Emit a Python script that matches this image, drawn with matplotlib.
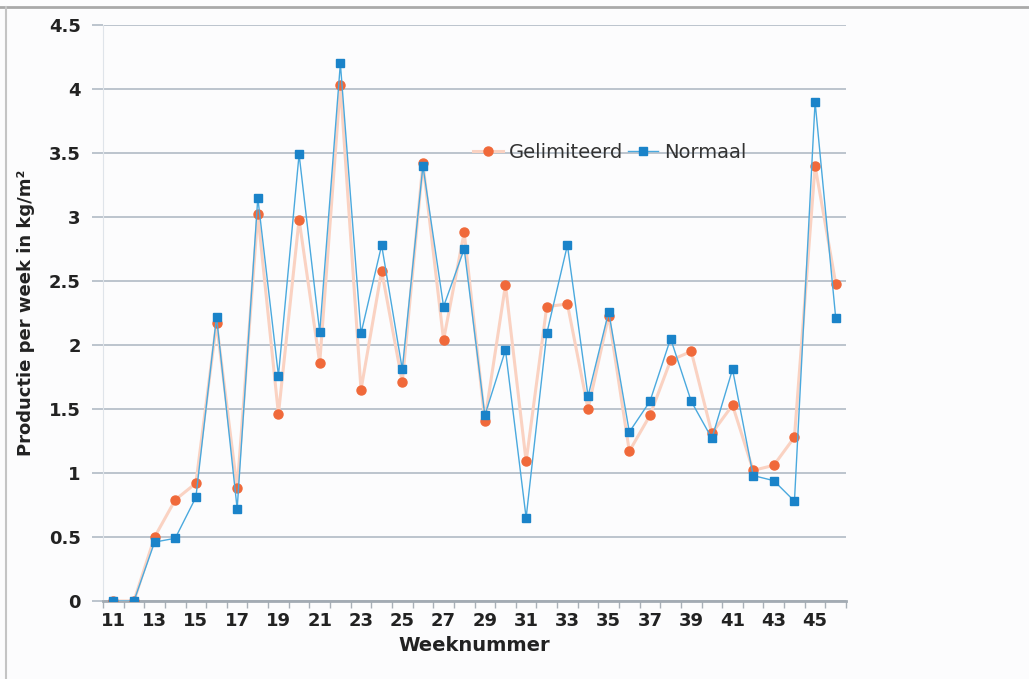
import matplotlib.pyplot as plt
from matplotlib.lines import Line2D

weeks = list(range(11, 47))
gelimiteerd = [0, 0, 0.50, 0.79, 0.92, 2.17, 0.88, 3.02, 1.46, 2.98,
               1.86, 4.03, 1.65, 2.58, 1.71, 3.42, 2.04, 2.88, 1.41, 2.47,
               1.09, 2.30, 2.32, 1.50, 2.23, 1.17, 1.45, 1.88, 1.95, 1.31,
               1.53, 1.02, 1.06, 1.28, 3.40, 2.48]
normaal = [0, 0, 0.46, 0.49, 0.81, 2.22, 0.72, 3.15, 1.76, 3.49,
           2.10, 4.20, 2.09, 2.78, 1.81, 3.40, 2.30, 2.75, 1.45, 1.96,
           0.65, 2.09, 2.78, 1.60, 2.26, 1.32, 1.56, 2.05, 1.56, 1.27,
           1.81, 0.98, 0.94, 0.78, 3.90, 2.21]
yticks = [0, 0.5, 1, 1.5, 2, 2.5, 3, 3.5, 4, 4.5]
ytick_labels = ['0', '0.5', '1', '1.5', '2', '2.5', '3', '3.5', '4', '4.5']

fig = plt.figure(figsize=(10.29, 6.79), dpi=100, facecolor='#fcfcfd')
ax = fig.add_axes([0.1001, 0.1149, 0.7221, 0.8483])
ax.set_facecolor('#fcfcfd')

# border: only top and left edges are visible in the original
fig.lines.append(Line2D([0, 1], [1 - 7 / 679, 1 - 7 / 679], transform=fig.transFigure,
                        color='#a9a9a9', lw=2))
fig.lines.append(Line2D([6 / 1029, 6 / 1029], [0, 1 - 7 / 679], transform=fig.transFigure,
                        color='#c4c4c4', lw=1.5))

ax.plot(weeks, gelimiteerd, color='#fad2c2', lw=2.2, marker='o', ms=6.5,
        mfc='#f0693a', mec='#f0693a', label='Gelimiteerd', zorder=3)
ax.plot(weeks, normaal, color='#4aa9de', lw=1, marker='s', ms=5.5,
        mfc='#1a83c9', mec='#1a83c9', label='Normaal', zorder=4)

ax.set_xlim(10.5, 46.5)
ax.set_ylim(0, 4.5)
ax.set_yticks(yticks)
ax.set_yticklabels(ytick_labels)
ax.set_xticks(range(11, 46, 2))
ax.set_xticks([w - 0.5 for w in weeks] + [46.5], minor=True)
ax.tick_params(axis='x', which='major', length=0, pad=8, labelsize=13)
ax.tick_params(axis='x', which='minor', length=5, color='#a9b0b8', width=1)
ax.tick_params(axis='y', length=8, width=1.3, color='#b7c0c9', pad=8, labelsize=13)
for lab in ax.get_xticklabels() + ax.get_yticklabels():
    lab.set_fontweight('bold')
    lab.set_color('#222222')

ax.grid(axis='y', color='#b7c0c9', lw=1.3)
ax.set_axisbelow(True)
for s in ['top', 'right']:
    ax.spines[s].set_visible(False)
ax.spines['left'].set_color('#dfe4ea')
ax.spines['bottom'].set_color('#a3abb3')
ax.spines['bottom'].set_linewidth(2)

ax.set_xlabel('Weeknummer', fontsize=14, fontweight='bold', color='#222222', labelpad=4)
ax.set_ylabel('Productie per week in kg/m²', fontsize=13, fontweight='bold',
              color='#222222', labelpad=10)

ax.legend(loc='upper left', bbox_to_anchor=(0.443, 0.815), bbox_transform=fig.transFigure,
          ncol=2, frameon=False, fontsize=14, handlelength=1.5, handletextpad=0.35,
          columnspacing=0.25, labelcolor='#333333')

fig.savefig('out.png', dpi=100, facecolor=fig.get_facecolor())
